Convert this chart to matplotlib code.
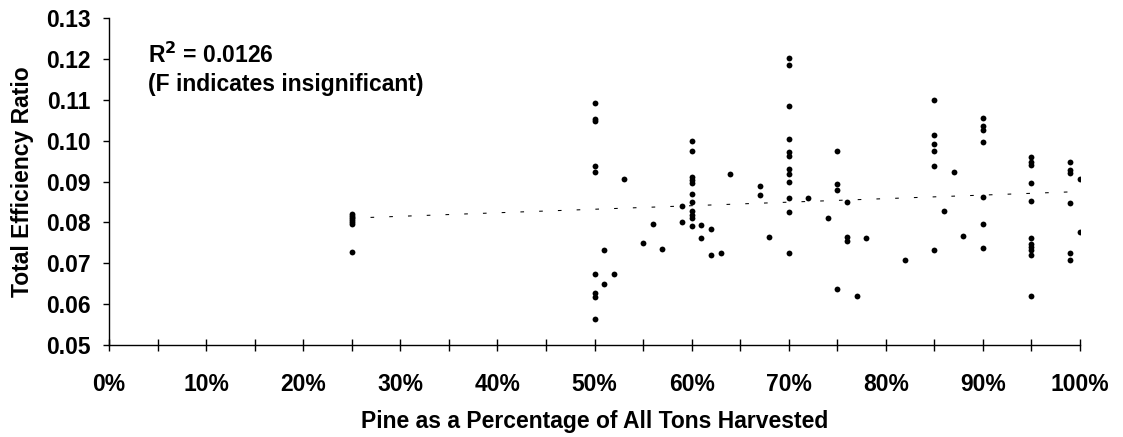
import numpy as np
import matplotlib
matplotlib.use("Agg")
import matplotlib.pyplot as plt
from matplotlib.ticker import MultipleLocator, FuncFormatter

plt.rcParams['font.family'] = ['Liberation Sans', 'DejaVu Sans']

# pine share of harvest (%) and total efficiency ratio, one entry per operation
pine_25 = [0.0820, 0.0815, 0.0810, 0.0805, 0.0800, 0.0796, 0.0728]
pine_50 = [0.1092, 0.1052, 0.1047, 0.0938, 0.0923, 0.0674, 0.0628, 0.0617, 0.0563]
pine_60 = [0.0999, 0.0975, 0.0910, 0.0904, 0.0897, 0.0870, 0.0850,
           0.0828, 0.0819, 0.0811, 0.0792]
pine_70 = [0.1203, 0.1184, 0.1084, 0.1004, 0.0973, 0.0962, 0.0930,
           0.0918, 0.0899, 0.0860, 0.0825, 0.0725]
pine_85 = [0.1100, 0.1015, 0.0991, 0.0974, 0.0937, 0.0733]
pine_90 = [0.1055, 0.1036, 0.1026, 0.0996, 0.0863, 0.0795, 0.0737]
pine_95 = [0.0959, 0.0948, 0.0941, 0.0897, 0.0852, 0.0762, 0.0746,
           0.0740, 0.0733, 0.0721, 0.0621]
pine_99 = [0.0948, 0.0928, 0.0920, 0.0848, 0.0724, 0.0709]

# scattered single operations: (pine %, ratio)
others_pct = [51, 51, 52, 53, 55, 56, 57, 59, 59, 61, 61, 62, 62, 63, 64,
              67, 67, 68, 72, 74, 75, 75, 75, 75, 76, 76, 76, 77, 78,
              82, 86, 87, 88, 100, 100]
others_val = [0.0733, 0.0649, 0.0674, 0.0907, 0.0750, 0.0795, 0.0736, 0.0839, 0.0800,
              0.0794, 0.0762, 0.0784, 0.0721, 0.0724, 0.0918,
              0.0889, 0.0867, 0.0764, 0.0859, 0.0810, 0.0975, 0.0893, 0.0879, 0.0638,
              0.0850, 0.0764, 0.0754, 0.0619, 0.0761,
              0.0709, 0.0829, 0.0923, 0.0766, 0.0905, 0.0776]

groups = {25: pine_25, 50: pine_50, 60: pine_60, 70: pine_70,
          85: pine_85, 90: pine_90, 95: pine_95, 99: pine_99}

x = []
y = []
for pct, vals in groups.items():
    x += [pct / 100] * len(vals)
    y += vals
x += [p / 100 for p in others_pct]
y += others_val
x = np.array(x)
y = np.array(y)

FS = 16.5

fig = plt.figure(figsize=(11.23, 4.37), dpi=100)
ax = fig.add_axes([0.0971, 0.2105, 0.8646, 0.7483])

ax.plot(x, y, 'o', color='black', markersize=4.2, markeredgewidth=0, zorder=3)

# linear trend line
slope, icpt = np.polyfit(x, y, 1)
xt = np.array([x.min(), x.max()])
ax.plot(xt, slope * xt + icpt, color='black', lw=0.75,
        linestyle=(0, (3.5, 14.5)), zorder=2)

ax.set_xlim(0, 1)
ax.set_ylim(0.05, 0.13)
ax.xaxis.set_major_locator(MultipleLocator(0.1))
ax.xaxis.set_minor_locator(MultipleLocator(0.05))
ax.xaxis.set_major_formatter(FuncFormatter(lambda v, _: f"{v * 100:.0f}%"))
ax.yaxis.set_major_locator(MultipleLocator(0.01))
ax.yaxis.set_major_formatter(FuncFormatter(lambda v, _: f"{v:.2f}"))

for s in ['top', 'right']:
    ax.spines[s].set_visible(False)
for s in ['left', 'bottom']:
    ax.spines[s].set_linewidth(1.0)
    ax.spines[s].set_color('black')

ax.tick_params(axis='x', which='both', direction='inout', length=8.6, width=1.0,
               pad=15.5, labelsize=FS)
ax.tick_params(axis='y', which='major', direction='out', length=4.3, width=1.0,
               pad=9, labelsize=FS)
for lab in ax.get_xticklabels() + ax.get_yticklabels():
    lab.set_fontweight('bold')

ax.set_xlabel('Pine as a Percentage of All Tons Harvested', fontsize=FS,
              fontweight='bold')
ax.set_ylabel('Total Efficiency Ratio', fontsize=FS, fontweight='bold')
ax.xaxis.label.set_va('center')
ax.yaxis.label.set_va('center')
ax.xaxis.set_label_coords(0.5, -0.2346)
ax.yaxis.set_label_coords(-0.0896, 0.5)

ax.text(0.040, 0.862, 'R$^{\\mathbf{2}}$ = 0.0126', transform=ax.transAxes,
        fontsize=FS, fontweight='bold', va='baseline')
ax.text(0.040, 0.777, '(F indicates insignificant)', transform=ax.transAxes,
        fontsize=FS, fontweight='bold', va='baseline')

fig.savefig('out.png', dpi=100)
